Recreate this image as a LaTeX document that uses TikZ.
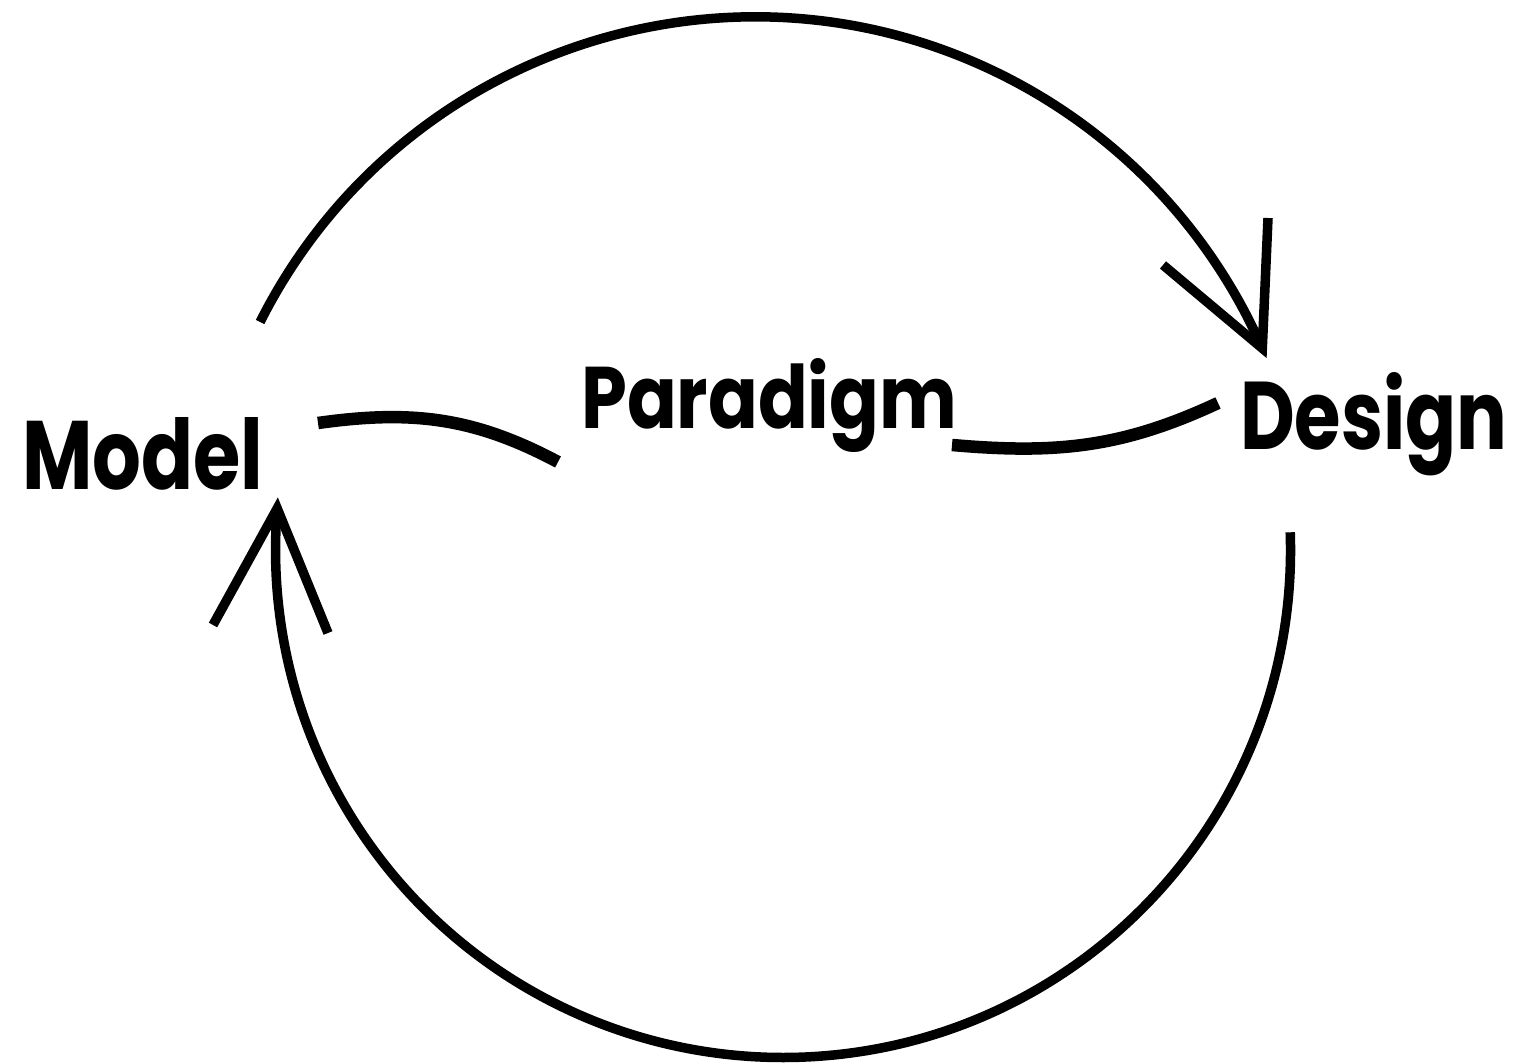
\documentclass[tikz,border=0pt]{standalone}
\usepackage{fontspec}
\setmainfont{Poppins}
\begin{document}
\begin{tikzpicture}[x=1pt,y=1pt,
  word/.style={inner sep=0pt, anchor=base west, font=\bfseries},
  arcline/.style={line width=9.5pt},
  midline/.style={line width=12.5pt}]
\useasboundingbox (0,0) rectangle (1520,1064);
% words
\node[word] (model) at (22,574) {\resizebox{241pt}{72pt}{Model}};
\node[word] (paradigm) at (581,635) {\resizebox{376pt}{70pt}{Paradigm}};
\node[word] (design) at (1240,614) {\resizebox{267pt}{77pt}{Design}};
% top arc (circle centre 755,493, radius 554)
\coordinate (a1) at (260.1,742);
\coordinate (a2) at (1262.3,715.7);
\coordinate (h1) at (1163,799);
\coordinate (h2) at (1268,846);
\draw[arcline] (a1) arc[start angle=153.3, end angle=23.7, radius=554];
\draw[arcline, line join=miter] (h1) -- (a2) -- (h2);
% bottom arc (circle centre 783,514, radius 507.5)
\coordinate (b1) at (1290.2,531.7);
\coordinate (b2) at (277.2,555.6);
\coordinate (g1) at (213,439);
\coordinate (g2) at (328,431);
\draw[arcline] (b1) arc[start angle=2, end angle=-184.7, radius=507.5];
\draw[arcline, line join=miter] (g1) -- (b2) -- (g2);
% middle links
\coordinate (m1) at (318,641);
\coordinate (m2) at (558,602);
\draw[midline] (m1) to[out=8,in=152] (m2);
\coordinate (n1) at (952,619);
\coordinate (n2) at (1218,661);
\draw[midline] (n1) to[out=-5,in=205] (n2);
\end{tikzpicture}
\end{document}
